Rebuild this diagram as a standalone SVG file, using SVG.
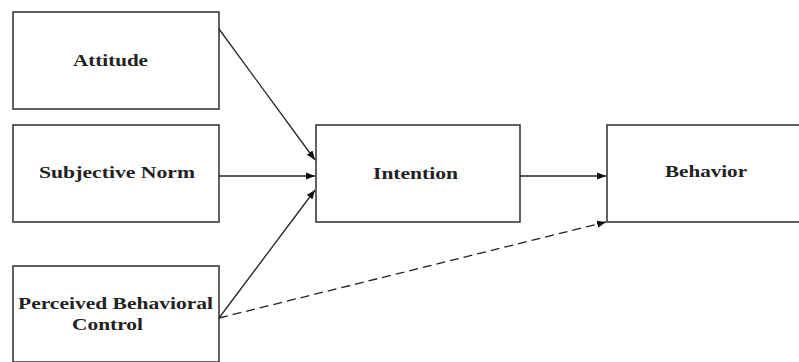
<svg xmlns="http://www.w3.org/2000/svg" width="799" height="362" viewBox="0 0 799 362">
<style>
.box{fill:#fff;stroke:#3a3a3a;stroke-width:1.6}
.lbl{font-family:"Liberation Serif","Times New Roman",serif;font-weight:bold;font-size:17px;fill:#222}
.c{fill:none;stroke:#222;stroke-width:1.3}
.d{stroke-dasharray:9,5}
</style>
<defs>
<marker id="ah" viewBox="0 0 10 10" refX="10" refY="5" markerWidth="9" markerHeight="9" markerUnits="userSpaceOnUse" orient="auto">
<path d="M0,1 L10,5 L0,9 Z" fill="#111"/>
</marker>
</defs>
<rect width="799" height="362" fill="#fff"/>
<g id="attitude">
<rect class="box" x="13" y="12" width="206" height="97"/>
<text class="lbl" x="73" y="66" textLength="75" lengthAdjust="spacingAndGlyphs">Attitude</text>
</g>
<g id="subjective-norm">
<rect class="box" x="13" y="125" width="206" height="97"/>
<text class="lbl" x="39" y="178" textLength="156" lengthAdjust="spacingAndGlyphs">Subjective Norm</text>
</g>
<g id="pbc">
<rect class="box" x="13" y="266" width="206" height="96"/>
<text class="lbl" x="18" y="309" textLength="195" lengthAdjust="spacingAndGlyphs">Perceived Behavioral</text>
<text class="lbl" x="72" y="330" textLength="71" lengthAdjust="spacingAndGlyphs">Control</text>
</g>
<g id="intention">
<rect class="box" x="316" y="125" width="204" height="97"/>
<text class="lbl" x="373" y="179" textLength="85" lengthAdjust="spacingAndGlyphs">Intention</text>
</g>
<g id="behavior">
<rect class="box" x="607" y="125" width="200" height="97"/>
<text class="lbl" x="665" y="177" textLength="82" lengthAdjust="spacingAndGlyphs">Behavior</text>
</g>
<g id="connectors">
<line class="c" x1="219" y1="29" x2="315" y2="160" marker-end="url(#ah)"/>
<line class="c" x1="219" y1="176" x2="315" y2="176" marker-end="url(#ah)"/>
<line class="c" x1="219" y1="318" x2="315" y2="190" marker-end="url(#ah)"/>
<line class="c" x1="520" y1="176" x2="606" y2="176" marker-end="url(#ah)"/>
<line class="c d" x1="219" y1="318" x2="606" y2="222" marker-end="url(#ah)"/>
</g>
</svg>
